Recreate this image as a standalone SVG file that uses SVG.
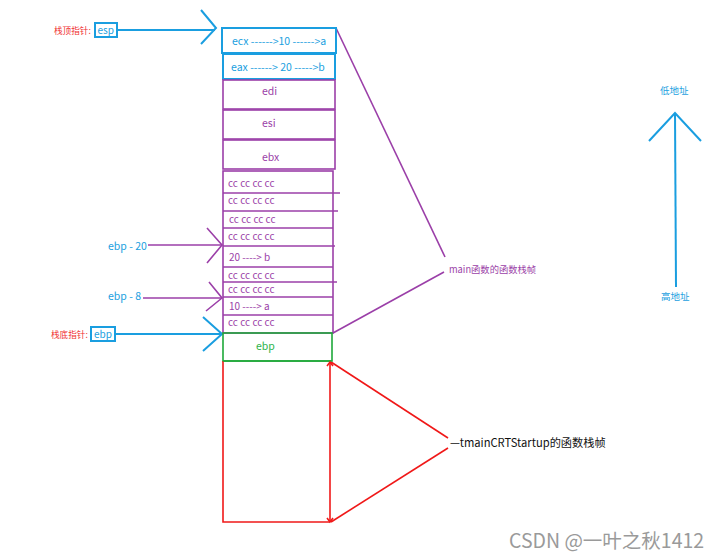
<svg xmlns="http://www.w3.org/2000/svg" width="722" height="558" viewBox="0 0 722 558">
<style>
text{font-family:"Noto Sans CJK SC","Liberation Sans",sans-serif;font-size:10.5px}
.b{fill:#1aa0e0}.p{fill:#9b3fa8}.r{fill:#f03030}.g{fill:#2db34a}.k{fill:#111}
.sb{stroke:#1a9ee0;fill:none;stroke-width:2}
.sp{stroke:#9b3fa8;fill:none;stroke-width:1.6}
.sr{stroke:#f01818;fill:none;stroke-width:1.6}
.sg{stroke:#1fa83a;fill:none;stroke-width:1.6}
.cc{fill:#9b3fa8;font-size:10px}
.lab{font-size:8.6px}
</style>
<rect width="722" height="558" fill="#fff"/>
<g id="connectors">
<polyline class="sb" points="117,30 215,30"/>
<polyline class="sb" points="201,10 216,28 201,44"/>
<polyline class="sp" points="148,245 222,245"/>
<polyline class="sp" points="207,228 222,245 207,263"/>
<polyline class="sp" points="143,298 221,298"/>
<polyline class="sp" points="209,282 222,298 206,311"/>
<polyline class="sb" points="115,334 221,334"/>
<polyline class="sb" points="203,317 222,334 203,351"/>
<line class="sp" x1="336" y1="28" x2="445" y2="257"/>
<line class="sp" x1="333" y1="333" x2="444" y2="272"/>
<line class="sr" x1="331" y1="362" x2="448" y2="438"/>
<line class="sr" x1="331" y1="522" x2="448" y2="448"/>
<line class="sb" x1="675" y1="113" x2="676" y2="287"/>
<polyline class="sb" points="649,141 675,113 701,141"/>
</g>
<g id="esp-label">
<text class="r lab" x="54" y="34">栈顶指针:</text>
<rect class="sb" x="95" y="23" width="22" height="14" stroke-width="1.6"/>
<text class="b" x="97.5" y="34" style="font-size:10px">esp</text>
</g>
<g id="ebp-label">
<text class="r lab" x="51" y="338">栈底指针:</text>
<rect class="sb" x="91" y="327" width="24" height="14" stroke-width="1.6"/>
<text class="b" x="94" y="338" style="font-size:10px">ebp</text>
</g>
<g id="ebp20"><text class="b" x="108" y="250">ebp - 20</text></g>
<g id="ebp8"><text class="b" x="108" y="300">ebp - 8</text></g>
<g id="ecx">
<rect class="sb" x="222" y="28" width="114" height="25"/>
<text class="b" x="232" y="45">ecx ------&gt;10 ------&gt;a</text>
</g>
<g id="eax">
<rect class="sb" x="223" y="54" width="112" height="25"/>
<text class="b" x="231" y="71">eax ------&gt; 20 -----&gt;b</text>
</g>
<g id="edi">
<rect class="sp" x="223" y="80" width="112" height="29"/>
<text class="p" x="262" y="95">edi</text>
</g>
<g id="esi">
<rect class="sp" x="223" y="110" width="112" height="29"/>
<text class="p" x="262" y="127">esi</text>
</g>
<g id="ebx">
<rect class="sp" x="223" y="140" width="112" height="29"/>
<text class="p" x="262" y="161">ebx</text>
</g>
<g id="locals">
<rect class="sp" x="223" y="171" width="110" height="162"/>
<line class="sp" x1="223" y1="193" x2="340" y2="193"/>
<line class="sp" x1="223" y1="211" x2="338" y2="211"/>
<line class="sp" x1="223" y1="228" x2="333" y2="228"/>
<line class="sp" x1="223" y1="246" x2="335" y2="246"/>
<line class="sp" x1="223" y1="267" x2="333" y2="267"/>
<line class="sp" x1="223" y1="282" x2="337" y2="282"/>
<line class="sp" x1="223" y1="297" x2="333" y2="297"/>
<line class="sp" x1="223" y1="315" x2="333" y2="315"/>
<text class="cc" x="228" y="187">cc cc cc cc</text>
<text class="cc" x="228" y="204">cc cc cc cc</text>
<text class="cc" x="229" y="223">cc cc cc cc</text>
<text class="cc" x="228" y="240">cc cc cc cc</text>
<text class="cc" x="229" y="261">20 ----&gt; b</text>
<text class="cc" x="228" y="279">cc cc cc cc</text>
<text class="cc" x="228" y="293">cc cc cc cc</text>
<text class="cc" x="229" y="310">10 ----&gt; a</text>
<text class="cc" x="228" y="326">cc cc cc cc</text>
</g>
<g id="ebp">
<rect class="sg" x="223" y="333" width="109" height="28"/>
<text class="g" x="256" y="350">ebp</text>
</g>
<g id="crt">
<polyline class="sr" points="223,361 223,522 330,522"/>
<line class="sg" x1="223" y1="361" x2="331" y2="361"/>
<line class="sr" x1="330" y1="362" x2="330" y2="522"/>
<polyline class="sr" points="327,366 330,362 333,366"/>
<polyline class="sr" points="327,518 330,522 333,518"/>
</g>
<g id="main-label"><text class="p" x="449" y="273" style="font-size:9.3px">main函数的函数栈帧</text></g>
<g id="crt-label"><text class="k" x="450" y="447" style="font-size:11.2px">—tmainCRTStartup的函数栈帧</text></g>
<g id="low"><text class="b" x="660" y="94" style="font-size:9.5px">低地址</text></g>
<g id="high"><text class="b" x="661" y="300" style="font-size:9.5px">高地址</text></g>
<text x="509" y="548" style="font-size:19.5px;fill:#9a9a9a">CSDN @一叶之秋1412</text>
</svg>
